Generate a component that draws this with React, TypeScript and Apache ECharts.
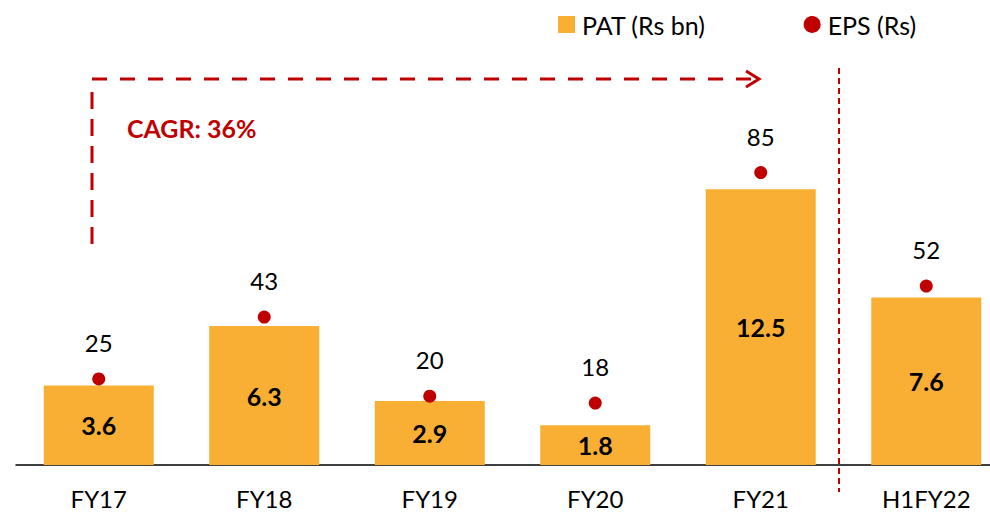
import React, { useEffect, useRef } from "react";
import * as echarts from "echarts";

const categories = ["FY17", "FY18", "FY19", "FY20", "FY21", "H1FY22"];
const patValues = [3.6, 6.3, 2.9, 1.8, 12.5, 7.6];
const epsValues = [25, 43, 20, 18, 85, 52];
const cagrText = "CAGR: 36%";
const patName = "PAT (Rs bn)";
const epsName = "EPS (Rs)";

const FONT = "Lato, 'Noto Sans', sans-serif";
const RED = "#C00000";
const ORANGE = "#F9AF33";

export default function App() {
  const ref = useRef<HTMLDivElement>(null);
  useEffect(() => {
    if (!ref.current) return;
    const chart = echarts.init(ref.current, null, { renderer: "svg" });
    chart.setOption({
      animation: false,
      textStyle: { fontFamily: FONT },
      legend: {
        left: 553,
        top: 7,
        itemWidth: 17,
        itemHeight: 17,
        itemGap: 98,
        textStyle: { fontFamily: FONT, fontSize: 25, color: "#000", padding: [0, 0, 0, 2] },
        data: [
          { name: patName, icon: "rect" },
          { name: epsName, icon: "circle" },
        ],
      },
      grid: { left: 16, right: 1, top: 68, bottom: 51 },
      xAxis: {
        type: "category",
        data: categories,
        axisLine: { lineStyle: { color: "#000", width: 1.5 } },
        axisTick: { show: false },
        axisLabel: { fontFamily: FONT, fontSize: 24, color: "#000", margin: 21 },
      },
      yAxis: [
        { type: "value", min: 0, max: 18, show: false, splitLine: { show: false } },
        { type: "value", min: 0, max: 115.4, show: false, splitLine: { show: false } },
      ],
      series: [
        {
          name: patName,
          type: "bar",
          data: patValues,
          barWidth: 110,
          itemStyle: { color: ORANGE },
          label: {
            show: true,
            position: "inside",
            fontFamily: FONT,
            fontWeight: "bold",
            fontSize: 25,
            color: "#000",
            formatter: (p: any) => p.value.toFixed(1),
          },
        },
        {
          name: epsName,
          type: "scatter",
          yAxisIndex: 1,
          data: epsValues,
          symbol: "circle",
          symbolSize: 13,
          itemStyle: { color: RED, opacity: 1 },
          label: {
            show: true,
            position: "top",
            distance: 18,
            fontFamily: FONT,
            fontSize: 24,
            color: "#000",
          },
        },
      ],
      graphic: [
        {
          type: "line",
          shape: { x1: 92, y1: 79, x2: 758, y2: 79 },
          style: { stroke: RED, lineWidth: 3, lineDash: [15, 13] },
        },
        {
          type: "polyline",
          shape: { points: [[746, 71], [759, 79], [746, 87]] },
          style: { stroke: RED, lineWidth: 3, fill: null },
        },
        {
          type: "line",
          shape: { x1: 92, y1: 92, x2: 92, y2: 254 },
          style: { stroke: RED, lineWidth: 3, lineDash: [17, 10] },
        },
        {
          type: "text",
          left: 127,
          top: 115,
          style: { text: cagrText, fill: RED, font: `bold 25px ${FONT}` },
        },
        {
          type: "line",
          shape: { x1: 839, y1: 68, x2: 839, y2: 492 },
          style: { stroke: RED, lineWidth: 2, lineDash: [6, 4] },
        },
      ],
    });
    return () => chart.dispose();
  }, []);
  return (
    <div style={{ position: "fixed", left: 0, top: 0, width: 990, height: 516, overflow: "hidden", background: "#fff" }}>
      <div ref={ref} style={{ width: 1010, height: 516 }} />
    </div>
  );
}
